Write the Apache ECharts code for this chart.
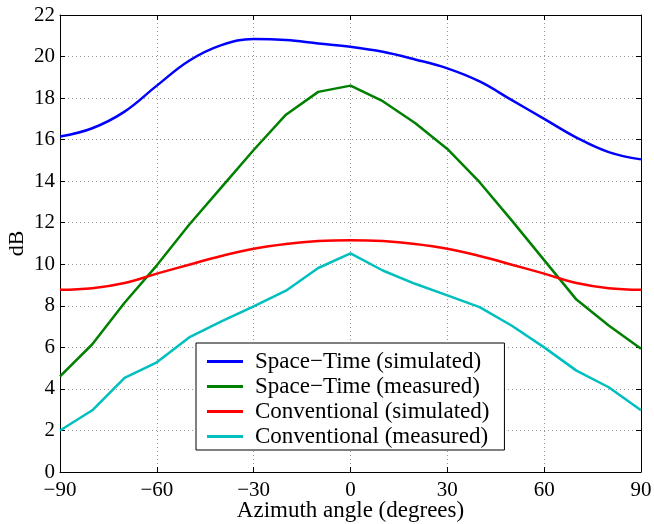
<!DOCTYPE html>
<html>
<head>
<meta charset="utf-8">
<script src="https://cdn.jsdelivr.net/npm/echarts@6/dist/echarts.min.js"></script>
<style>
  html, body { margin: 0; padding: 0; background: #fff; }
  #chart { width: 654px; height: 524px; }
</style>
</head>
<body>
<div id="chart"></div>
<script>
// azimuth angles (degrees)
const angles = [-90, -80, -70, -60, -50, -40, -30, -20, -10, 0, 10, 20, 30, 40, 50, 60, 70, 80, 90];

const spaceTimeSim = [16.15, 16.55, 17.35, 18.6, 19.8, 20.55, 20.85, 20.8, 20.63, 20.47, 20.23, 19.86, 19.43, 18.8, 17.9, 17.0, 16.1, 15.4, 15.05];
const spaceTimeMeas = [4.6, 6.15, 8.15, 9.95, 11.9, 13.7, 15.5, 17.2, 18.3, 18.6, 17.85, 16.8, 15.55, 13.95, 12.1, 10.2, 8.3, 7.05, 5.93];
const convSim = [8.77, 8.85, 9.1, 9.55, 9.98, 10.4, 10.75, 10.98, 11.12, 11.16, 11.12, 10.98, 10.75, 10.4, 9.98, 9.55, 9.1, 8.85, 8.77];
const convMeas = [2.0, 2.97, 4.53, 5.28, 6.48, 7.25, 7.97, 8.73, 9.82, 10.52, 9.7, 9.06, 8.5, 7.94, 7.04, 6.0, 4.88, 4.08, 2.97];

const seriesNames = [
  'Space\u2212Time (simulated)',
  'Space\u2212Time (measured)',
  'Conventional (simulated)',
  'Conventional (measured)'
];
const seriesColors = ['#0000ff', '#008000', '#ff0000', '#00bfbf'];
const seriesValues = [spaceTimeSim, spaceTimeMeas, convSim, convMeas];
const seriesSmooth = [true, false, true, false];

const font = 'Liberation Serif';
const chart = echarts.init(document.getElementById('chart'));

const minus = v => String(v).replace('-', '\u2212');

const gridLine = { show: true, lineStyle: { color: '#999', type: [1, 3], width: 1 } };
const tick = { inside: true, length: 5, lineStyle: { color: '#000' } };
const line = { show: true, onZero: false, lineStyle: { color: '#000', width: 1 } };

chart.setOption({
  animation: false,
  textStyle: { fontFamily: font },
  grid: { left: 60, top: 15, right: 13, bottom: 52, outerBoundsMode: 'none' },
  legend: {
    orient: 'vertical',
    left: 196,
    top: 343,
    padding: [6, 15, 1, 11],
    itemGap: 0,
    itemWidth: 36,
    itemHeight: 3,
    icon: 'rect',
    borderColor: '#000',
    borderWidth: 1,
    backgroundColor: '#fff',
    textStyle: { fontFamily: font, fontSize: 23, lineHeight: 25, color: '#000', padding: [0, 0, 0, 7] },
    data: seriesNames
  },
  xAxis: [
    {
      type: 'value', min: -90, max: 90, interval: 30,
      name: 'Azimuth angle (degrees)', nameLocation: 'middle', nameGap: 27, nameMoveOverlap: false,
      nameTextStyle: { fontFamily: font, fontSize: 23, color: '#000' },
      axisLine: line, axisTick: tick, splitLine: gridLine,
      axisLabel: { fontFamily: font, fontSize: 21, color: '#000', margin: 8, formatter: minus }
    },
    {
      type: 'value', min: -90, max: 90, interval: 30, position: 'top',
      axisLine: line, axisTick: tick, splitLine: { show: false }, axisLabel: { show: false }
    }
  ],
  yAxis: [
    {
      type: 'value', min: 0, max: 22, interval: 2,
      name: 'dB', nameLocation: 'middle', nameGap: 32, nameMoveOverlap: false,
      nameTextStyle: { fontFamily: font, fontSize: 22, color: '#000' },
      axisLine: line, axisTick: tick, splitLine: gridLine,
      axisLabel: { fontFamily: font, fontSize: 21, color: '#000', margin: 5 }
    },
    {
      type: 'value', min: 0, max: 22, interval: 2, position: 'right',
      axisLine: line, axisTick: tick, splitLine: { show: false }, axisLabel: { show: false }
    }
  ],
  series: seriesNames.map((name, i) => ({
    name,
    type: 'line',
    smooth: seriesSmooth[i] ? 0.4 : false,
    symbol: 'none',
    color: seriesColors[i],
    lineStyle: { width: 2.5, color: seriesColors[i] },
    data: angles.map((a, j) => [a, seriesValues[i][j]])
  }))
});
</script>
</body>
</html>
